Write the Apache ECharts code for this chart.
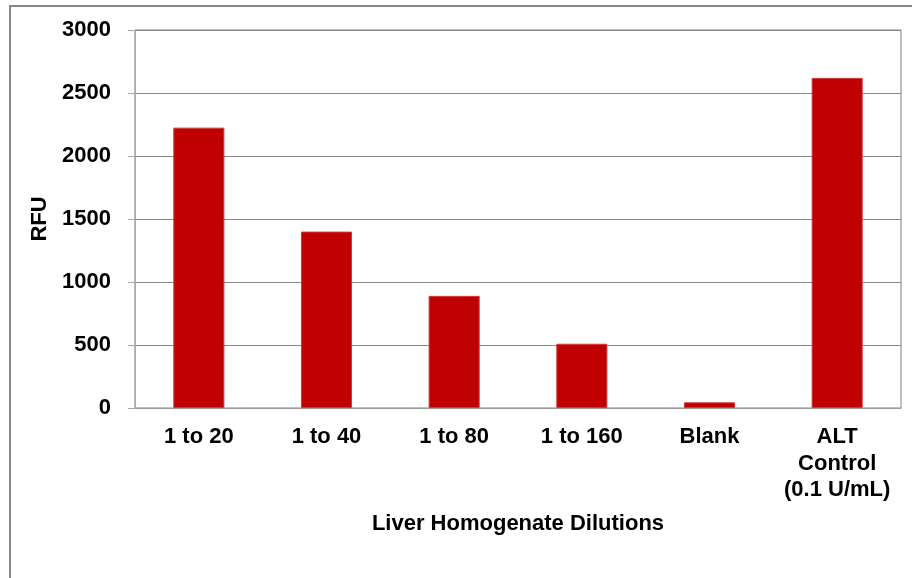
<!DOCTYPE html>
<html>
<head>
<meta charset="utf-8">
<script src="https://cdn.jsdelivr.net/npm/echarts@6/dist/echarts.min.js"></script>
<style>
  html, body { margin: 0; padding: 0; background: #fff; }
  #chart { width: 912px; height: 578px; }
</style>
</head>
<body>
<div id="chart"></div>
<script>
// data
const categories = ['1 to 20', '1 to 40', '1 to 80', '1 to 160', 'Blank', 'ALT\nControl\n(0.1 U/mL)'];
const rfu = [2225, 1400, 890, 510, 45, 2620];
const yTicks = [0, 500, 1000, 1500, 2000, 2500, 3000];

const font = 'Arial, "Liberation Sans", sans-serif';
const chart = echarts.init(document.getElementById('chart'));

chart.setOption({
  animation: false,
  backgroundColor: '#fff',
  graphic: [{
    // outer chart-area frame, runs off the right and bottom edge
    type: 'rect',
    shape: { x: 10, y: 6, width: 940, height: 620 },
    style: { fill: 'none', stroke: '#878787', lineWidth: 2 },
    z: -1
  }],
  grid: {
    left: 135, top: 30, right: 11, bottom: 170,
    show: true, borderColor: '#808080', borderWidth: 1
  },
  xAxis: {
    type: 'category',
    data: categories,
    name: 'Liver Homogenate Dilutions',
    nameLocation: 'middle',
    nameGap: 105,
    nameTextStyle: { fontFamily: font, fontSize: 22, fontWeight: 'bold', color: '#000' },
    axisLine: { lineStyle: { color: '#9a9a9a', width: 1 } },
    axisTick: { length: 7, lineStyle: { color: '#9a9a9a' } },
    axisLabel: {
      margin: 16, interval: 0,
      fontFamily: font, fontSize: 22, fontWeight: 'bold', color: '#000', lineHeight: 26.5
    }
  },
  yAxis: {
    type: 'value',
    min: 0, max: yTicks[yTicks.length - 1], interval: yTicks[1] - yTicks[0],
    name: 'RFU',
    nameLocation: 'middle',
    nameGap: 83,
    nameTextStyle: { fontFamily: font, fontSize: 22, fontWeight: 'bold', color: '#000' },
    axisLine: { show: true, lineStyle: { color: '#a8a8a8', width: 1 } },
    axisTick: { show: true, length: 7, lineStyle: { color: '#a8a8a8' } },
    splitLine: { lineStyle: { color: '#888', width: 1 } },
    axisLabel: {
      margin: 24, fontFamily: font, fontSize: 22, fontWeight: 'bold', color: '#000',
      formatter: v => String(v)
    }
  },
  series: [{
    type: 'bar',
    data: rfu,
    barWidth: '40%',
    itemStyle: { color: '#C00000', borderColor: '#d03a3a', borderWidth: 1 }
  }]
});
</script>
</body>
</html>
